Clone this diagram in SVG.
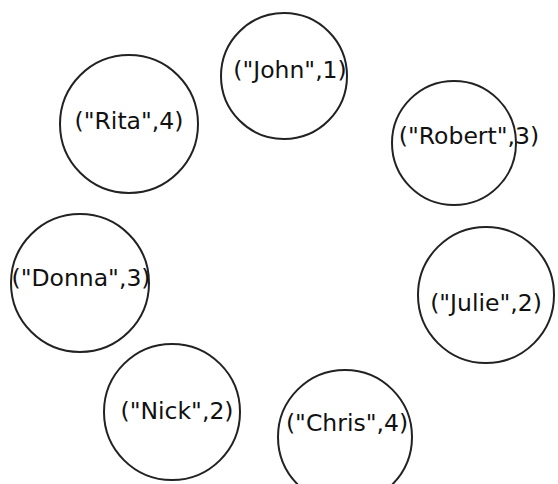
<svg xmlns="http://www.w3.org/2000/svg" width="558" height="484" viewBox="0 0 558 484">
<style>
.n{fill:#fff;stroke:#222;stroke-width:2}
.t{font-family:"DejaVu Sans",sans-serif;font-size:23.5px;fill:#111;text-anchor:middle}
</style>
<rect width="558" height="484" fill="#fff"/>
<g id="connectors"></g>
<g id="john"><circle class="n" cx="284" cy="76" r="63"/><text class="t" x="290" y="78">("John",1)</text></g>
<g id="robert"><circle class="n" cx="454" cy="143" r="62"/><text class="t" x="469" y="144">("Robert",3)</text></g>
<g id="rita"><circle class="n" cx="129" cy="124" r="69"/><text class="t" x="129" y="129">("Rita",4)</text></g>
<g id="donna"><circle class="n" cx="80" cy="283" r="69"/><text class="t" x="81" y="286">("Donna",3)</text></g>
<g id="julie"><circle class="n" cx="486" cy="295" r="68"/><text class="t" x="486" y="311">("Julie",2)</text></g>
<g id="nick"><circle class="n" cx="172" cy="412" r="68"/><text class="t" x="177" y="419">("Nick",2)</text></g>
<g id="chris"><circle class="n" cx="345" cy="437" r="67"/><text class="t" x="347" y="431">("Chris",4)</text></g>
</svg>
